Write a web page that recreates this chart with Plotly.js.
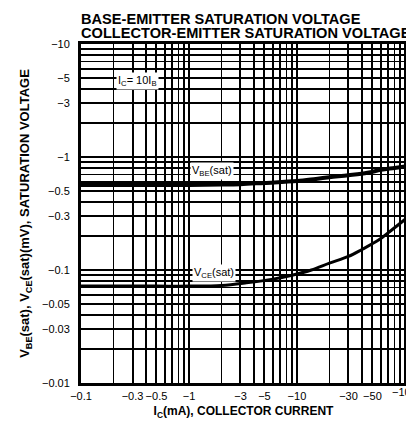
<!DOCTYPE html>
<html>
<head>
<meta charset="utf-8">
<script src="https://cdn.plot.ly/plotly-3.0.1.min.js"></script>
<style>html,body{margin:0;padding:0;background:#fff;overflow:hidden;}#chart{width:406px;height:421px;}</style>
</head>
<body>
<div id="chart"></div>
<script>
// Collector current magnitude (mA) and saturation voltages (V)
var icVbe = [0.1, 0.3, 1, 2, 3, 5, 10, 15, 20, 30, 45, 60, 80, 100];
var vbeSat = [0.565, 0.565, 0.566, 0.57, 0.575, 0.59, 0.612, 0.64, 0.662, 0.69, 0.725, 0.77, 0.8, 0.825];
var icVce = [0.1, 0.5, 1, 2, 3.4, 6, 9, 13.6, 20, 30, 40, 57, 75, 100];
var vceSat = [0.072, 0.072, 0.072, 0.073, 0.077, 0.083, 0.09, 0.1, 0.115, 0.132, 0.152, 0.184, 0.225, 0.28];

var xTickVals = [0.1, 0.3, 0.5, 1, 3, 5, 10, 30, 50, 100];
var xTickText = ["\u22120.1", "\u22120.3", "\u22120.5", "\u22121", "\u22123", "\u22125", "\u221210", "\u221230", "\u221250", "\u2212100"];
var yTickVals = [0.01, 0.03, 0.05, 0.1, 0.3, 0.5, 1, 3, 5, 10];
var yTickText = ["\u22120.01", "\u22120.03", "\u22120.05", "\u22120.1", "\u22120.3", "\u22120.5", "\u22121", "\u22123", "\u22125", "\u221210"];

function gridVals(decades) {
  var out = [];
  decades.forEach(function (d) { for (var k = 1; k <= 9; k++) out.push(+(k * d).toPrecision(3)); });
  return out;
}
var xGrid = gridVals([0.1, 1, 10]).concat([100]);
var yGrid = gridVals([0.01, 0.1, 1]).concat([10]);

var traces = [
  {x: icVbe, y: vbeSat, mode: 'lines', line: {color: '#000', width: 4, shape: 'spline'}, hoverinfo: 'skip'},
  {x: icVce, y: vceSat, mode: 'lines', line: {color: '#000', width: 3, shape: 'spline'}, hoverinfo: 'skip'}
];

var FONT = 'Liberation Sans, Arial, Helvetica, sans-serif';
var nX = xTickVals.length;

var layout = {
  width: 406, height: 421,
  margin: {l: 81, r: 0, t: 44, b: 38},
  paper_bgcolor: '#fff', plot_bgcolor: '#fff',
  showlegend: false,
  font: {family: FONT, color: '#000', size: 11},
  xaxis: {
    type: 'log', range: [-1, 2.01],
    tickvals: xTickVals.slice(0, nX - 1), ticktext: xTickText.slice(0, nX - 1),
    ticks: '', ticklabelstandoff: 1,
    showgrid: true, gridcolor: '#000', gridwidth: 2,
    minor: {tickvals: xGrid, showgrid: true, gridcolor: '#000', gridwidth: 1.7, ticks: ''},
    showline: true, linecolor: '#000', linewidth: 3, mirror: true,
    zeroline: false,
    tickfont: {family: FONT, size: 11, color: '#000'},
    title: {text: '<b>I<sub>C</sub>(mA), COLLECTOR CURRENT</b>', font: {family: FONT, size: 12, color: '#000'}, standoff: 6}
  },
  yaxis: {
    type: 'log', range: [-2, 1],
    tickvals: yTickVals, ticktext: yTickText,
    ticks: '', ticklabelstandoff: 6,
    showgrid: true, gridcolor: '#000', gridwidth: 2,
    minor: {tickvals: yGrid, showgrid: true, gridcolor: '#000', gridwidth: 1.7, ticks: ''},
    showline: true, linecolor: '#000', linewidth: 3, mirror: true,
    zeroline: false,
    tickfont: {family: FONT, size: 11, color: '#000'},
    title: {text: '<b>V<sub>BE</sub>(sat), V<sub>CE</sub>(sat)(mV), SATURATION VOLTAGE</b>', font: {family: FONT, size: 13, color: '#000'}, standoff: 10}
  },
  annotations: [
    {xref: 'paper', yref: 'paper', x: 0, xshift: -2, y: 1.074, xanchor: 'left', yanchor: 'middle', showarrow: false,
     text: '<b>BASE-EMITTER SATURATION VOLTAGE</b>', font: {family: FONT, size: 14.6, color: '#000'}},
    {xref: 'paper', yref: 'paper', x: 0, xshift: -2, y: 1.032, xanchor: 'left', yanchor: 'middle', showarrow: false,
     text: '<b>COLLECTOR-EMITTER SATURATION VOLTAGE</b>', font: {family: FONT, size: 14.6, color: '#000'}},
    {xref: 'x', yref: 'paper', x: Math.log10(xTickVals[nX - 1]), y: 0, yanchor: 'top', yshift: -1, showarrow: false,
     text: xTickText[nX - 1], font: {family: FONT, size: 11, color: '#000'}},
    {xref: 'x', yref: 'y', x: -0.48, y: 0.673, showarrow: false, bgcolor: '#fff', borderpad: 1,
     text: 'I<sub>C</sub>= 10I<sub>B</sub>', font: {family: FONT, size: 11, color: '#000'}},
    {xref: 'x', yref: 'y', x: 0.213, y: -0.124, showarrow: false, bgcolor: '#fff', borderpad: 1,
     text: 'V<sub>BE</sub>(sat)', font: {family: FONT, size: 11, color: '#000'}},
    {xref: 'x', yref: 'y', x: 0.231, y: -1.027, showarrow: false, bgcolor: '#fff', borderpad: 1,
     text: 'V<sub>CE</sub>(sat)', font: {family: FONT, size: 11, color: '#000'}}
  ]
};

Plotly.newPlot('chart', traces, layout, {displayModeBar: false, staticPlot: true});
</script>
</body>
</html>
